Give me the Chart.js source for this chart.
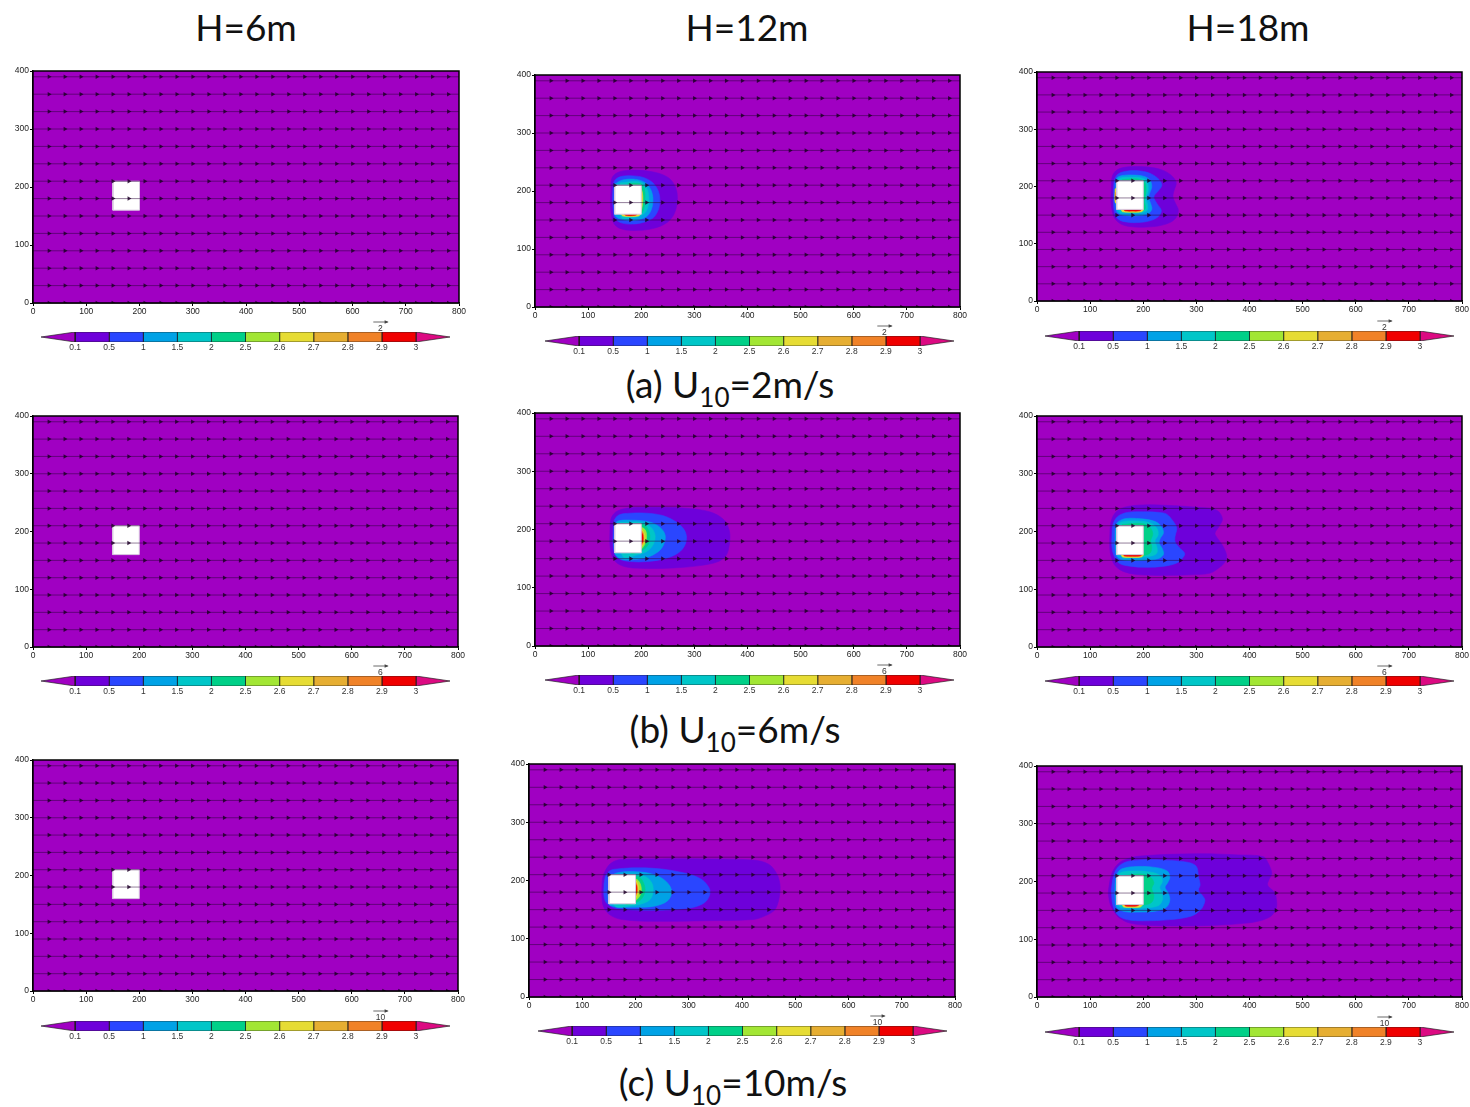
<!DOCTYPE html>
<html><head><meta charset="utf-8">
<script src="https://cdn.jsdelivr.net/npm/chart.js@4.4.0/dist/chart.umd.min.js"></script>
<style>
body{margin:0;background:#fff;width:1470px;height:1107px;position:relative;overflow:hidden;font-family:Lato,'Open Sans',sans-serif}
.t{position:absolute;font-size:37px;line-height:36px;color:#111;white-space:nowrap;transform:translateX(-50%)}
.t sub{font-size:26px;vertical-align:-9px;line-height:0}
canvas{position:absolute}
</style></head><body>
<script>
// ---------------- data ----------------
const columnTitles = ['H=6m','H=12m','H=18m'];
const rowTitlePrefix = ['(a)','(b)','(c)'];
const rowSpeeds = ['2','6','10'];
const vecRefLabels = ['2','6','10'];
const levelLabels = ['0.1','0.5','1','1.5','2','2.5','2.6','2.7','2.8','2.9','3'];
const levelColors = ['#A000C2','#6E00DA','#2A46FF','#00A2E6','#00C6C8','#00D088','#A2E634','#E6DC34','#E6AE32','#F08228','#F00000','#DC0A82'];
const xTicks = [0,100,200,300,400,500,600,700,800];
const yTicks = [0,100,200,300,400];
const domainX = [0,800];
const domainY = [0,400];
const buildingX = [150,200];
const buildingY = [160,210];
const vecRowsY = [0,30,60,90,120,150,180,210,240,270,300,330,360,390];
const vecColsX = [30,60,90,120,150,180,210,240,270,300,330,360,390,420,450,480,510,540,570,600,630,660,690,720,750,780];

// contour outlines (x m, y m) per panel and level
const a12_1 = [[143,200],[144,220],[152,230],[168,235],[190,236],[215,234],[238,229],[255,220],[265,205],[268,188],[265,168],[256,152],[240,141],[215,134],[188,132],[165,134],[150,142],[144,158],[142,180],[143,200]];
const a12_2 = [[147,205],[150,218],[162,225],[185,226],[205,223],[222,214],[232,200],[235,183],[231,165],[220,152],[200,145],[178,143],[160,146],[150,154],[147,170],[146,190],[147,205]];
const a12_3 = [[150,212],[165,219],[190,220],[208,214],[218,202],[222,186],[219,168],[210,156],[192,150],[170,150],[155,154],[150,160],[150,212]];
const a12_4 = [[160,214],[195,216],[209,207],[214,190],[212,171],[204,160],[185,154],[162,155],[160,214]];
const a12_5 = [[175,213],[200,212],[206,202],[207,186],[205,170],[200,161],[185,157],[175,158],[175,213]];
const a12_7a = [[199,206],[202,198],[203,184],[201,170],[199,164],[199,206]];
const a12_7b = [[162,160],[198,160],[195,157],[180,156],[165,157],[162,160]];
const a12_10 = [[168,160],[192,160],[188,158],[178,157.5],[171,158],[168,160]];

const a18_1 = [[140,195],[141,215],[148,227],[162,233],[185,235],[210,234],[235,229],[252,220],[262,207],[258,193],[256,182],[261,170],[266,159],[262,146],[250,137],[228,131],[200,129],[175,130],[157,135],[146,145],[141,160],[139,178],[140,195]];
const a18_2 = [[144,195],[146,212],[153,222],[170,227],[195,227],[215,222],[230,212],[235,202],[228,192],[220,182],[226,170],[234,158],[228,147],[212,140],[190,137],[168,138],[153,143],[146,155],[144,172],[144,195]];
const a18_3 = [[148,200],[150,214],[160,219],[180,220],[200,218],[212,212],[216,200],[212,188],[210,180],[214,170],[216,160],[208,152],[190,149],[170,149],[155,152],[149,160],[148,200]];
const a18_4 = [[150,205],[155,214],[175,216],[200,214],[208,206],[209,192],[205,180],[208,168],[207,158],[195,154],[170,154],[155,156],[150,205]];
const a18_5 = [[160,212],[190,213],[203,207],[205,190],[202,175],[204,162],[196,157],[170,157],[160,212]];
const a18_7a = [[158,160],[200,160],[197,156],[180,155],[161,156],[158,160]];
const a18_7b = [[147,196],[152,196],[152,172],[147,172],[147,196]];
const a18_10a = [[163,160],[196,160],[193,157.5],[180,157],[166,157.5],[163,160]];
const a18_10b = [[149,190],[152,190],[152,178],[149,178],[149,190]];

const b12_1 = [[141,195],[143,218],[152,230],[170,236],[200,238],[240,238],[290,236],[330,230],[354,218],[364,203],[367,188],[365,170],[360,156],[345,145],[310,138],[260,134],[210,133],[175,135],[155,142],[145,155],[141,175],[141,195]];
const b12_2 = [[147,195],[149,215],[158,225],[180,228],[210,228],[240,224],[262,215],[278,203],[285,189],[282,173],[270,160],[245,150],[210,145],[180,145],[160,149],[150,158],[147,175],[147,195]];
const b12_3 = [[150,205],[155,214],[180,216],[215,213],[235,204],[245,190],[242,174],[232,162],[210,152],[180,148],[160,150],[150,160],[150,205]];
const b12_4 = [[160,212],[200,212],[218,204],[226,190],[223,175],[213,164],[195,157],[165,154],[160,212]];
const b12_5 = [[180,210],[205,208],[214,198],[216,186],[213,174],[205,166],[190,160],[180,160],[180,210]];
const b12_6 = [[195,206],[207,200],[210,188],[207,175],[198,166],[195,206]];
const b12_7 = [[198,203],[205,195],[207,185],[204,175],[198,170],[198,203]];
const b12_9 = [[199,200],[204,193],[204,178],[199,172],[199,200]];
const b12_10 = [[199,197],[203,190],[203,180],[199,175],[199,197]];

const b18_1 = [[137,190],[139,215],[147,232],[165,242],[200,246],[250,245],[300,242],[338,237],[349,222],[342,208],[335,197],[340,188],[348,178],[355,165],[357,155],[352,145],[344,138],[326,128],[290,125],[240,124],[195,125],[165,130],[148,140],[140,155],[137,172],[137,190]];
const b18_2 = [[141,190],[143,212],[152,226],[170,233],[200,234],[230,233],[244,230],[256,218],[263,206],[260,192],[260,182],[268,172],[278,162],[272,152],[262,145],[240,140],[205,138],[175,140],[155,145],[145,158],[141,175],[141,190]];
const b18_3 = [[147,200],[150,214],[165,222],[195,222],[220,218],[233,210],[238,198],[232,188],[230,180],[236,170],[238,160],[228,153],[200,150],[170,150],[155,153],[148,162],[147,200]];
const b18_4 = [[150,205],[158,216],[190,218],[215,214],[226,205],[228,194],[222,184],[226,172],[225,162],[212,157],[180,155],[160,156],[150,205]];
const b18_5 = [[160,212],[195,214],[212,208],[218,196],[214,184],[216,172],[212,162],[195,158],[165,158],[160,212]];
const b18_7 = [[158,160],[200,160],[197,156],[180,155],[161,156],[158,160]];
const b18_10 = [[162,160],[197,160],[194,157.5],[180,157],[165,157.5],[162,160]];

const c12_1 = [[137,190],[139,207],[148,224],[158,232],[172,236],[250,237],[330,237],[421,235],[450,228],[465,212],[471,195],[471,178],[467,160],[460,148],[440,138],[421,133],[330,131],[233,130],[175,133],[152,141],[140,155],[137,172],[137,190]];
const c12_2 = [[141,195],[145,210],[158,219],[233,221],[296,212],[322,203],[335,192],[340,181],[335,167],[322,158],[296,152],[233,149],[165,152],[147,160],[141,172],[141,195]];
const c12_3 = [[150,205],[165,213],[202,215],[235,210],[258,198],[268,181],[260,165],[235,156],[202,154],[165,155],[150,160],[150,205]];
const c12_4 = [[160,210],[200,211],[220,206],[231,195],[233,181],[228,168],[215,161],[195,157],[160,157],[160,210]];
const c12_5 = [[180,208],[205,207],[214,198],[218,184],[214,172],[205,164],[180,161],[180,208]];
const c12_6 = [[195,205],[206,199],[211,185],[207,172],[198,166],[195,205]];
const c12_7 = [[198,203],[204,195],[206,184],[203,174],[198,168],[198,203]];
const c12_9 = [[199,200],[203,192],[204,182],[201,174],[199,172],[199,200]];
const c12_10 = [[199,196],[202,190],[202,180],[199,176],[199,196]];

const c18_1 = [[134,180],[137,200],[141,214],[150,228],[163,237],[194,244],[300,248],[380,246],[426,243],[435,232],[442,214],[437,204],[434,194],[442,186],[448,180],[451,166],[451,156],[446,146],[439,139],[420,132],[395,128],[330,124],[269,123],[210,124],[175,128],[155,137],[147,145],[138,160],[134,180]];
const c18_2 = [[140,185],[143,205],[150,222],[165,233],[190,237],[240,237],[285,233],[300,226],[304,208],[307,194],[304,185],[312,175],[316,168],[313,158],[307,150],[290,140],[250,134],[200,132],[170,134],[152,142],[143,158],[140,185]];
const c18_3 = [[147,195],[150,212],[160,222],[190,226],[225,224],[245,218],[250,208],[246,198],[241,190],[247,180],[250,168],[244,156],[225,149],[190,147],[165,148],[150,155],[147,170],[147,195]];
const c18_4 = [[150,200],[155,214],[180,218],[215,216],[232,210],[236,200],[231,190],[235,180],[236,168],[228,158],[200,154],[170,154],[155,157],[150,200]];
const c18_5 = [[160,210],[195,213],[213,208],[220,198],[216,188],[220,176],[216,164],[200,159],[170,158],[160,210]];
const c18_7 = [[160,160],[198,160],[195,156],[178,155],[163,156],[160,160]];
const c18_10 = [[164,160],[192,160],[188,157.5],[175,157],[167,157.5],[164,160]];

const contoursA12 = [[1,a12_1],[2,a12_2],[3,a12_3],[4,a12_4],[5,a12_5],[7,a12_7a],[7,a12_7b],[10,a12_10]];
const contoursA18 = [[1,a18_1],[2,a18_2],[3,a18_3],[4,a18_4],[5,a18_5],[7,a18_7a],[7,a18_7b],[10,a18_10a],[10,a18_10b]];
const contoursB12 = [[1,b12_1],[2,b12_2],[3,b12_3],[4,b12_4],[5,b12_5],[6,b12_6],[7,b12_7],[9,b12_9],[10,b12_10]];
const contoursB18 = [[1,b18_1],[2,b18_2],[3,b18_3],[4,b18_4],[5,b18_5],[7,b18_7],[10,b18_10]];
const contoursC12 = [[1,c12_1],[2,c12_2],[3,c12_3],[4,c12_4],[5,c12_5],[6,c12_6],[7,c12_7],[9,c12_9],[10,c12_10]];
const contoursC18 = [[1,c18_1],[2,c18_2],[3,c18_3],[4,c18_4],[5,c18_5],[7,c18_7],[10,c18_10]];

// ---------------- layout ----------------
const panels = [
  {row:0, left:33,  top:71,  w:426, h:232, contours:[]},
  {row:0, left:535, top:75,  w:425, h:232, contours:contoursA12},
  {row:0, left:1037,top:72,  w:425, h:229, contours:contoursA18},
  {row:1, left:33,  top:416, w:425, h:231, contours:[]},
  {row:1, left:535, top:413, w:425, h:233, contours:contoursB12},
  {row:1, left:1037,top:416, w:425, h:231, contours:contoursB18},
  {row:2, left:33,  top:760, w:425, h:231, contours:[]},
  {row:2, left:529, top:764, w:426, h:233, contours:contoursC12},
  {row:2, left:1037,top:766, w:425, h:231, contours:contoursC18}
];
const colorbars = [
  {row:0,left:41,cy:337},{row:0,left:545,cy:341},{row:0,left:1045,cy:336},
  {row:1,left:41,cy:681},{row:1,left:545,cy:680},{row:1,left:1045,cy:681},
  {row:2,left:41,cy:1026},{row:2,left:538,cy:1031},{row:2,left:1045,cy:1032}
];
const colTitlePos = [{x:246,y:9},{x:747,y:9},{x:1248,y:9}];
const rowTitlePos = [{x:730,y:366},{x:735,y:711},{x:733,y:1064}];

// ---------------- titles ----------------
columnTitles.forEach((t,i)=>{
  const d=document.createElement('div'); d.className='t'; d.textContent=t;
  d.style.left=colTitlePos[i].x+'px'; d.style.top=colTitlePos[i].y+'px'; document.body.appendChild(d);
});
rowTitlePrefix.forEach((t,i)=>{
  const d=document.createElement('div'); d.className='t';
  d.innerHTML=t+' U<sub>10</sub>='+rowSpeeds[i]+'m/s';
  d.style.left=rowTitlePos[i].x+'px'; d.style.top=rowTitlePos[i].y+'px'; document.body.appendChild(d);
});

// ---------------- charts ----------------
Chart.defaults.animation = false;
Chart.defaults.font.family = "'Liberation Sans', Arial, sans-serif";
const toPts = poly => poly.map(([x,y])=>({x,y}));
const rectPts = (xr,yr)=>[{x:xr[0],y:yr[0]},{x:xr[1],y:yr[0]},{x:xr[1],y:yr[1]},{x:xr[0],y:yr[1]},{x:xr[0],y:yr[0]}];

const framePlugin = {
  id:'frame',
  afterDraw(chart){
    const a=chart.chartArea, c=chart.ctx;
    c.save(); c.strokeStyle='#000'; c.lineWidth=1.5;
    c.strokeRect(a.left,a.top,a.right-a.left,a.bottom-a.top); c.restore();
  }
};

function makePanel(p){
  const padL=34,padT=8,padR=14,padB=16;
  const cv=document.createElement('canvas');
  cv.width=p.w+padL+padR; cv.height=p.h+padT+padB;
  cv.style.left=(p.left-padL)+'px'; cv.style.top=(p.top-padT)+'px';
  document.body.appendChild(cv);
  const ds=[];
  ds.push({data:rectPts(domainX,domainY), showLine:true, fill:'shape', backgroundColor:levelColors[0], borderColor:levelColors[0], borderWidth:0.5, pointRadius:0, order:100});
  p.contours.forEach(([lvl,poly],k)=>{
    ds.push({data:toPts(poly), showLine:true, fill:'shape', tension:0.35, backgroundColor:levelColors[lvl], borderColor:levelColors[lvl], borderWidth:0.6, pointRadius:0, order:90-k});
  });
  ds.push({data:rectPts(buildingX,buildingY), showLine:true, fill:'shape', backgroundColor:'#ffffff', borderColor:'#d8c8e0', borderWidth:1, pointRadius:0, order:10});
  vecRowsY.forEach(y=>{
    ds.push({data:[{x:domainX[0],y},{x:domainX[1],y}], showLine:true, fill:false, borderColor:'rgba(40,0,55,0.5)', borderWidth:1, pointRadius:0, order:5});
  });
  const heads=[];
  vecRowsY.forEach(y=>vecColsX.forEach(x=>heads.push({x,y})));
  ds.push({data:heads, showLine:false, pointStyle:'triangle', rotation:90, radius:2.6, backgroundColor:'rgba(30,0,40,0.85)', borderColor:'rgba(30,0,40,0.85)', borderWidth:0, order:1});
  new Chart(cv,{
    type:'scatter',
    data:{datasets:ds},
    options:{
      responsive:false, animation:false,
      layout:{padding:{left:0,top:padT,right:padR,bottom:0}},
      plugins:{legend:{display:false},tooltip:{enabled:false}},
      scales:{
        x:{type:'linear',min:domainX[0],max:domainX[1],
           afterBuildTicks:s=>{s.ticks=xTicks.map(v=>({value:v}));},
           afterFit:s=>{s.height=padB;},
           ticks:{font:{size:8.5},color:'#222',padding:1,maxRotation:0,autoSkip:false},
           grid:{display:true,drawOnChartArea:false,tickLength:3,color:'#000'},
           border:{display:true,color:'#000',width:1.5}},
        y:{type:'linear',min:domainY[0],max:domainY[1],
           afterBuildTicks:s=>{s.ticks=yTicks.map(v=>({value:v}));},
           afterFit:s=>{s.width=padL;},
           ticks:{font:{size:8.5},color:'#222',padding:1,autoSkip:false},
           grid:{display:true,drawOnChartArea:false,tickLength:3,color:'#000'},
           border:{display:true,color:'#000',width:1.5}}
      }
    },
    plugins:[framePlugin]
  });
}

function makeColorbar(cb){
  const W=409, padT=18, barH=10, padB=16;
  const cv=document.createElement('canvas');
  cv.width=W; cv.height=padT+barH+padB;
  cv.style.left=cb.left+'px'; cv.style.top=(cb.cy-barH/2-padT)+'px';
  document.body.appendChild(cv);
  const n=levelColors.length; // 12 segments
  const ds=levelColors.map((col,i)=>{
    let pts;
    if(i===0) pts=[{x:1,y:0},{x:0,y:0.5},{x:1,y:1},{x:1,y:0}];
    else if(i===n-1) pts=[{x:n-1,y:0},{x:n,y:0.5},{x:n-1,y:1},{x:n-1,y:0}];
    else pts=[{x:i,y:0},{x:i+1,y:0},{x:i+1,y:1},{x:i,y:1},{x:i,y:0}];
    return {data:pts, showLine:true, fill:'shape', backgroundColor:col, borderColor:'rgba(30,30,30,0.85)', borderWidth:0.8, pointRadius:0};
  });
  const label=vecRefLabels[cb.row];
  const refPlugin={
    id:'vref',
    afterDraw(chart){
      const c=chart.ctx, xs=chart.scales.x, top=chart.chartArea.top;
      const x0=xs.getPixelForValue(n-2.25), x1=xs.getPixelForValue(n-1.83);
      const y=top-10;
      c.save(); c.strokeStyle='#444'; c.fillStyle='#444'; c.lineWidth=0.8;
      c.beginPath(); c.moveTo(x0,y); c.lineTo(x1,y); c.stroke();
      c.beginPath(); c.moveTo(x1+1,y); c.lineTo(x1-3,y-1.8); c.lineTo(x1-3,y+1.8); c.closePath(); c.fill();
      c.font="8.5px 'Liberation Sans', Arial, sans-serif"; c.textAlign='center'; c.textBaseline='alphabetic';
      c.fillStyle='#333'; c.fillText(label,(x0+x1)/2,top-1);
      c.restore();
    }
  };
  new Chart(cv,{
    type:'scatter',
    data:{datasets:ds},
    options:{
      responsive:false, animation:false,
      layout:{padding:{left:0,top:padT,right:0,bottom:0}},
      plugins:{legend:{display:false},tooltip:{enabled:false}},
      scales:{
        x:{type:'linear',min:0,max:n,
           afterBuildTicks:s=>{s.ticks=levelLabels.map((l,i)=>({value:i+1}));},
           afterFit:s=>{s.height=padB;},
           ticks:{font:{size:8.5},color:'#333',padding:1,maxRotation:0,autoSkip:false,
                  callback:(v)=>levelLabels[Math.round(v)-1]},
           grid:{display:false,drawTicks:false,tickLength:0}, border:{display:false}},
        y:{type:'linear',min:0,max:1,display:false}
      }
    },
    plugins:[refPlugin]
  });
}

panels.forEach(makePanel);
colorbars.forEach(makeColorbar);
</script>
</body></html>
